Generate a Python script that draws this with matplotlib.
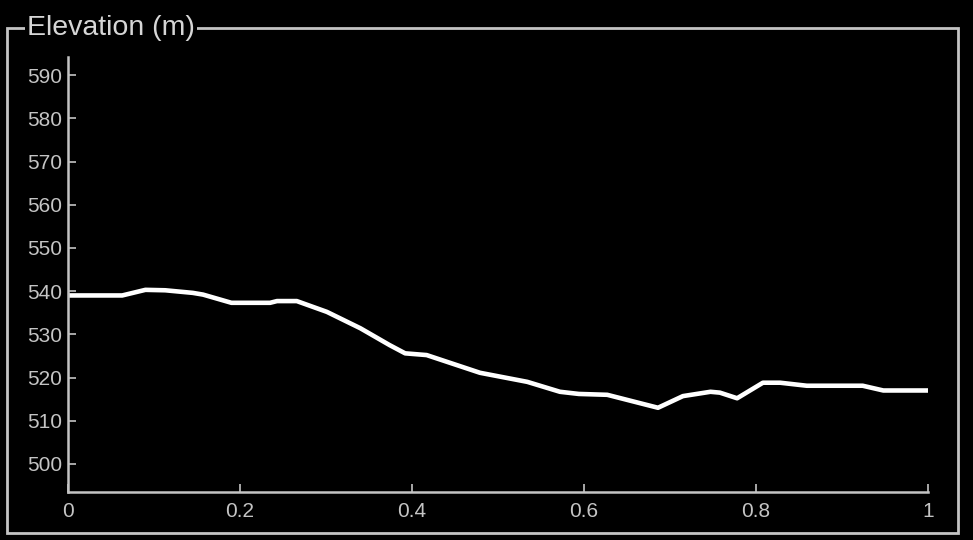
import matplotlib.pyplot as plt
from matplotlib.patches import Rectangle

plt.rcParams['font.family'] = ['Liberation Sans', 'DejaVu Sans']

# 距离比例 (0~1) 与海拔 (m)
distance = [0.0, 0.063, 0.09, 0.113, 0.145, 0.157, 0.19, 0.235, 0.243, 0.266,
            0.301, 0.34, 0.374, 0.392, 0.417, 0.479, 0.534, 0.572, 0.594, 0.627,
            0.686, 0.715, 0.747, 0.758, 0.778, 0.808, 0.828, 0.859, 0.924, 0.948, 1.0]
elevation = [539, 539, 540.3, 540.2, 539.6, 539.2, 537.3, 537.3, 537.7, 537.7,
             535.2, 531.4, 527.5, 525.6, 525.2, 521.1, 519.0, 516.7, 516.2, 516.0,
             513.0, 515.7, 516.7, 516.5, 515.2, 518.8, 518.8, 518.1, 518.1, 517.0, 517.0]

x_ticks = [0, 0.2, 0.4, 0.6, 0.8, 1]
x_tick_labels = ['0', '0.2', '0.4', '0.6', '0.8', '1']
y_ticks = [500, 510, 520, 530, 540, 550, 560, 570, 580, 590]

fg = '#c4c4c4'

fig = plt.figure(figsize=(9.73, 5.4), dpi=100, facecolor='black')
ax = fig.add_axes([0.0699, 0.0889, 0.8839, 0.8055])
ax.set_facecolor('black')

ax.plot(distance, elevation, color='white', lw=3.3, solid_joinstyle='round')

ax.set_xlim(0, 1)
ax.set_ylim(493.5, 594.2)
ax.set_xticks(x_ticks)
ax.set_xticklabels(x_tick_labels)
ax.set_yticks(y_ticks)

for s in ['top', 'right']:
    ax.spines[s].set_visible(False)
for s in ['left', 'bottom']:
    ax.spines[s].set_color(fg)
    ax.spines[s].set_linewidth(1.8)

ax.tick_params(axis='both', direction='in', colors=fg, labelsize=15, length=6, width=1.2)
ax.tick_params(axis='x', pad=7)
ax.tick_params(axis='y', pad=4)

# 外框 + 标题
frame = Rectangle((0.0072, 0.013), 0.9774, 0.935, transform=fig.transFigure,
                  fill=False, edgecolor=fg, lw=2.0)
fig.add_artist(frame)
fig.text(0.0277, 0.948, 'Elevation (m)', color='#d6d6d6', fontsize=20.5,
         ha='left', va='center',
         bbox=dict(facecolor='black', edgecolor='none', pad=1.5))

plt.savefig('out.png', dpi=100, facecolor='black')
